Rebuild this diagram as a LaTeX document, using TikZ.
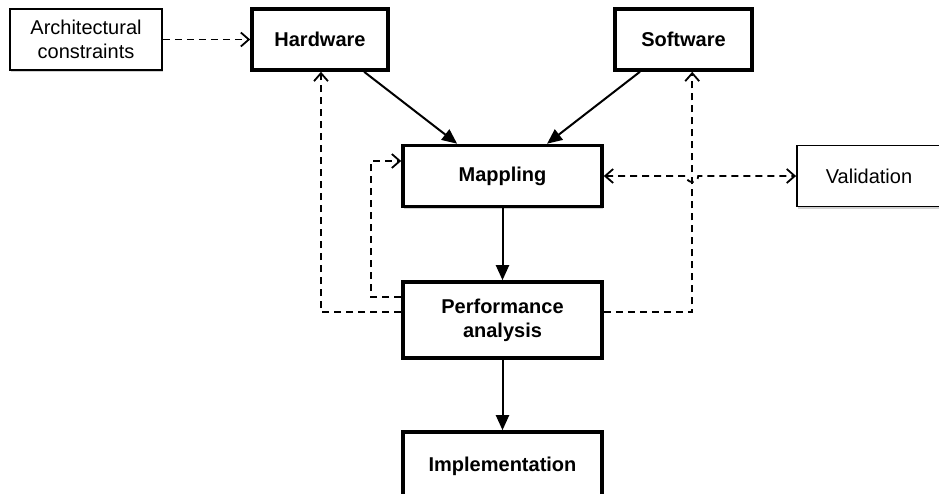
\documentclass[tikz,border=0pt]{standalone}
\usepackage{fontspec}
\setmainfont{Liberation Sans}
\usetikzlibrary{arrows.meta,shadows,calc}
\begin{document}
\begin{tikzpicture}[x=1pt,y=-1pt,
  base/.style={draw, fill=white, align=center, inner sep=0pt,
    font=\fontsize{20}{24}\selectfont,
    drop shadow={shadow xshift=1pt,shadow yshift=-2pt,fill=black,opacity=0.18}},
  thinbox/.style={base, line width=1.8pt},
  thickbox/.style={base, line width=3.6pt, font=\fontsize{20}{24}\selectfont\bfseries},
  dashline/.style={line width=1.8pt, dash pattern=on 7pt off 5pt,
    -{Straight Barb[length=8pt,width=14pt]}},
  dashboth/.style={line width=1.8pt, dash pattern=on 7pt off 5pt,
    {Straight Barb[length=8pt,width=14pt]}-{Straight Barb[length=8pt,width=14pt]}},
  solidline/.style={line width=2pt, -{Triangle[length=15pt,width=13pt]}}]

\useasboundingbox (0,0) rectangle (939,493);

\node[thinbox, minimum width=152, minimum height=61] (arch) at (86,39.5) {Architectural\\constraints};
\node[thickbox, minimum width=136, minimum height=61] (hw) at (320,39.5) {Hardware};
\node[thickbox, minimum width=137, minimum height=61] (sw) at (683.5,39.5) {Software};
\node[thickbox, minimum width=199, minimum height=61] (map) at (502.5,176) {Mappling};
\node[thinbox, minimum width=144, minimum height=61] (val) at (869,176) {Validation};
\node[thickbox, minimum width=199, minimum height=76] (perf) at (502.5,320) {Performance\\analysis};
\node[thickbox, minimum width=199, minimum height=68] (impl) at (502.5,466) {\raisebox{3pt}{Implementation}};

% solid arrows
\draw[solidline] ($(hw.south west)!0.816!(hw.south east)$) -- ($(map.north west)!0.276!(map.north east)$);
\draw[solidline] ($(sw.south west)!0.19!(sw.south east)$) -- ($(map.north west)!0.72!(map.north east)$);
\draw[solidline] (map.south) -- (perf.north);
\draw[solidline] (perf.south) -- (impl.north);

% dashed arrows
\draw[dashline] (arch.east) -- (hw.west);
\draw[dashline] ($(perf.west)+(0,-23)$) -- ++(-30,0) |- ($(map.west)+(0,-15)$);
\draw[dashline] ($(perf.west)+(0,-8)$) -| ($(hw.south west)!0.507!(hw.south east)$);
\coordinate (swx) at ($(sw.south west)!0.562!(sw.south east)$);
\draw[dashline] ($(perf.east)+(0,-8)$) -| (swx);
\coordinate (jmp) at ($(map.east -| swx)+(-6,0)$);
\draw[dashboth] (map.east) -- (jmp) arc (180:0:6) -- (val.west);
\end{tikzpicture}
\end{document}
